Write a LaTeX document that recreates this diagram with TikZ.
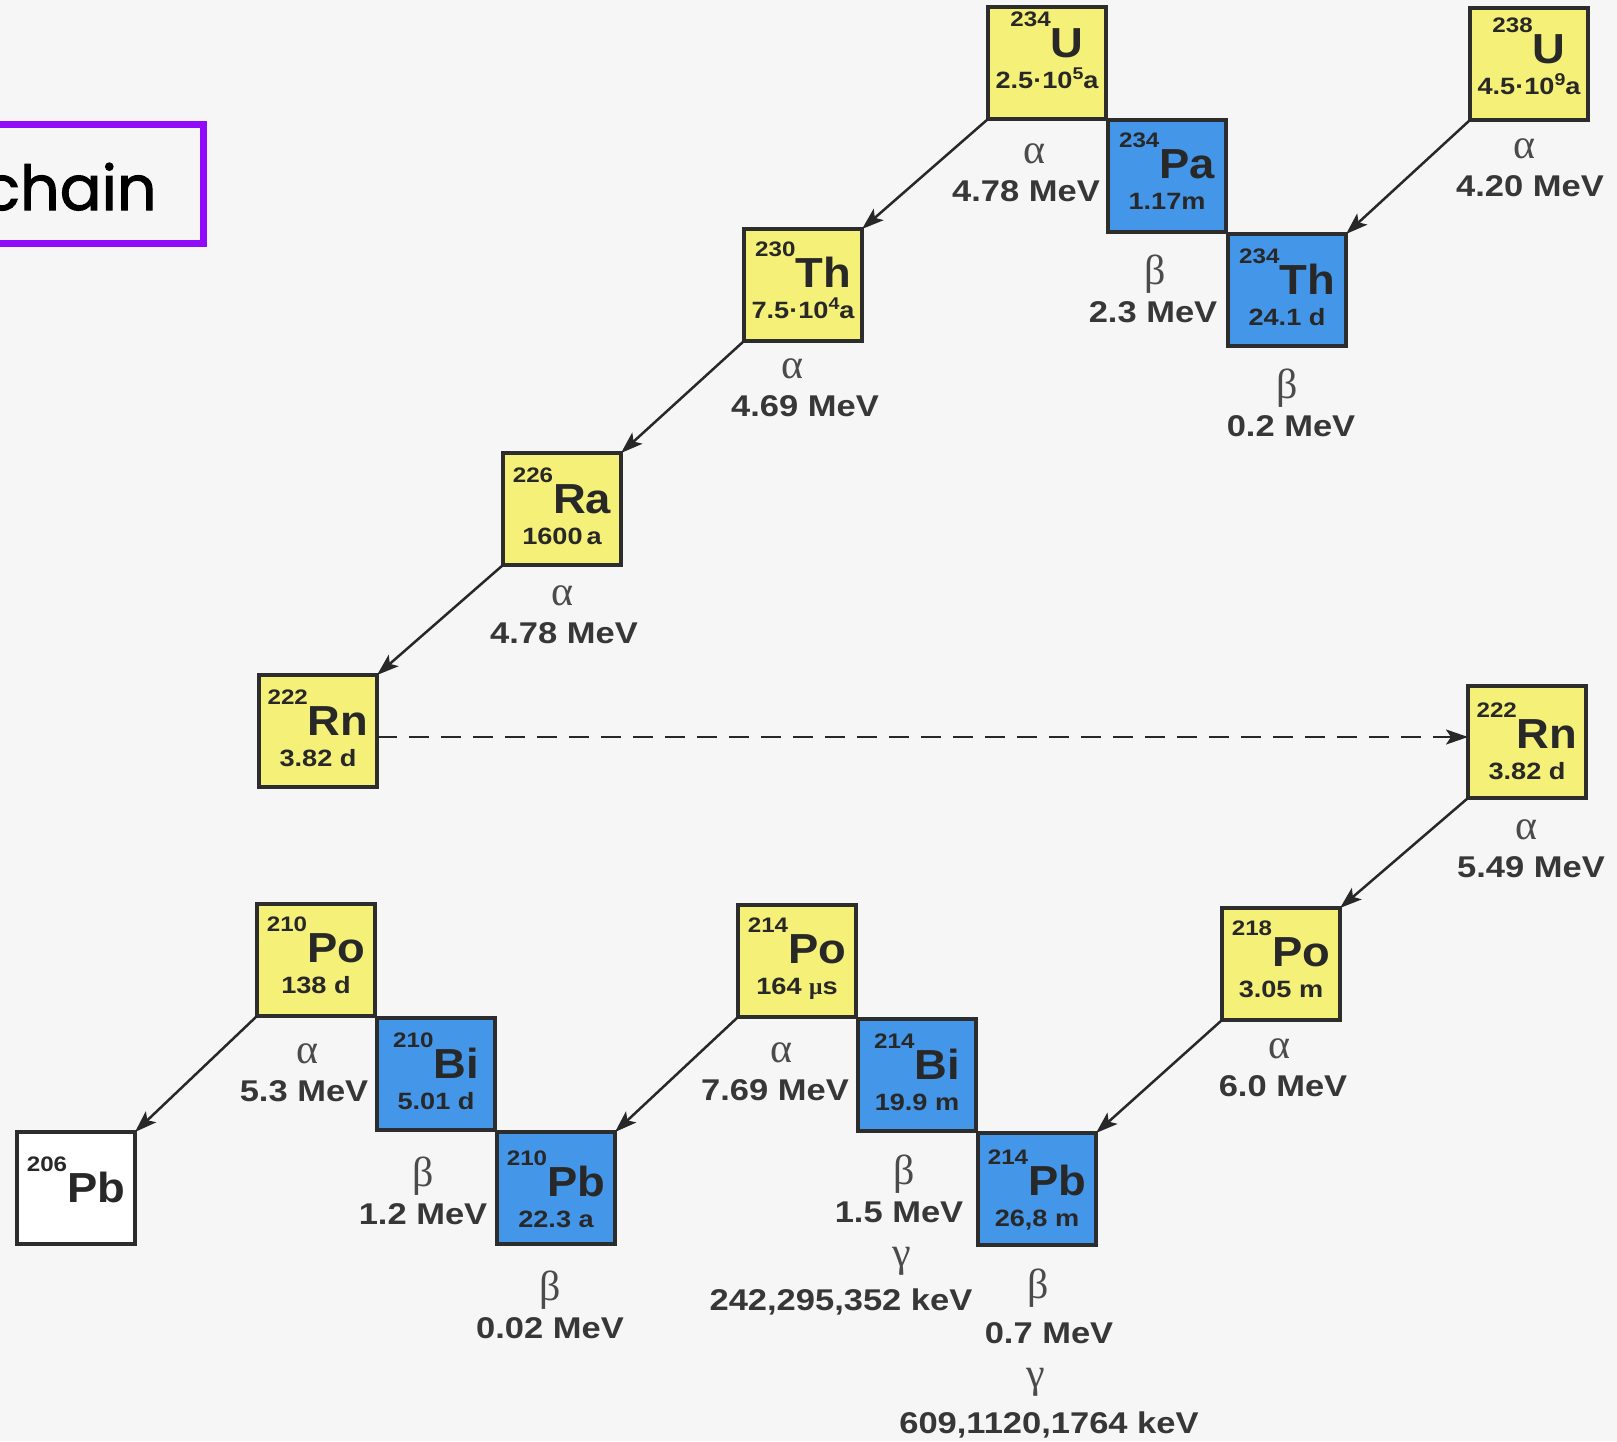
\documentclass[tikz,border=0pt]{standalone}
\usepackage{fontspec}
\setmainfont{Liberation Sans}
\newfontfamily\widesans[FakeStretch=1.15]{Liberation Sans}
\newfontfamily\symsans[FakeStretch=1.08]{Liberation Sans}
\newfontfamily\greekserif{Liberation Serif}
\newfontfamily\handfont[FakeBold=1.6]{Poppins}
\usetikzlibrary{arrows.meta}

\definecolor{paper}{RGB}{246,246,246}
\definecolor{ink}{RGB}{40,40,40}
\definecolor{labelink}{RGB}{55,55,55}
\definecolor{greekink}{RGB}{75,75,75}
\definecolor{nucyellow}{RGB}{245,240,120}
\definecolor{nucblue}{RGB}{68,150,232}
\definecolor{framepurple}{RGB}{145,10,250}
\definecolor{boxline}{RGB}{45,45,45}

% type sizes for the nuclide cards
\newcommand\massfnt{\widesans\bfseries\fontsize{10.5}{11}\selectfont}
\newcommand\symfnt{\symsans\bfseries\fontsize{21}{22}\selectfont}
\newcommand\lifefnt{\widesans\bfseries\fontsize{11.8}{12}\selectfont}
\newcommand\pow[1]{\raisebox{4.5pt}{\fontsize{8.5}{9}\selectfont #1}}

\tikzset{
  nucbox/.style={draw=boxline, line width=2pt, minimum width=59pt,
    minimum height=56pt, inner sep=0pt, outer sep=0pt},
  yellowbox/.style={nucbox, fill=nucyellow},
  bluebox/.style={nucbox, fill=nucblue},
  whitebox/.style={nucbox, fill=white},
  nuctext/.style={anchor=base, inner sep=0pt, text=ink},
  greek/.style={anchor=base, inner sep=0pt, text=greekink,
    font=\greekserif\fontsize{21}{22}\selectfont},
  energy/.style={anchor=base, inner sep=0pt, text=labelink,
    font=\widesans\bfseries\fontsize{15}{16}\selectfont},
  decay/.style={draw=ink, line width=1.25pt,
    -{Stealth[length=11pt,width=7.5pt,inset=2.5pt]}},
  transfer/.style={decay, dash pattern=on 10pt off 6pt},
  titleframe/.style={draw=framepurple, line width=3.5pt},
}

% name, centre, style, mass number, symbol, half-life, baseline of symbol below top
\newcommand\nuclide[7]{%
  \node[#3] (#1) at (#2) {};
  \node[nuctext] (#1-name) at ([yshift=-#7]#1.north)
    {\raisebox{15.5pt}{\massfnt #4}\symfnt #5};
  \node[nuctext] (#1-life) at ([yshift=-#7-15.5pt]#1.north) {\lifefnt #6};
}

\begin{document}
\begin{tikzpicture}[x=0.5pt, y=-0.5pt]
  \path[use as bounding box] (0,0) rectangle (1617,1441);
  \clip (0,0) rectangle (1617,1441);
  \fill[paper] (0,0) rectangle (1617,1441);

  % heading frame
  \draw[titleframe] (-20,124) rectangle (203,243);
  \node[anchor=base east, inner sep=0pt, text=black,
    font=\handfont\fontsize{31}{34}\selectfont] (heading) at (157,210) {chain};

  % nuclides
  \nuclide{u234}{1047,63}{yellowbox}{234}{U}{2.5·10\pow{5}a}{25pt}
  \nuclide{pa234}{1167,176}{bluebox}{234}{Pa}{1.17m}{29pt}
  \nuclide{th234}{1287,290}{bluebox}{234}{Th}{24.1 d}{30pt}
  \nuclide{u238}{1529,64}{yellowbox}{238}{U}{4.5·10\pow{9}a}{27.5pt}
  \nuclide{th230}{803,285}{yellowbox}{230}{Th}{7.5·10\pow{4}a}{29pt}
  \nuclide{ra226}{562,509}{yellowbox}{226}{Ra}{1600\,a}{30pt}
  \nuclide{rn222a}{318,731}{yellowbox}{222}{Rn}{3.82 d}{30pt}
  \nuclide{rn222b}{1527,742}{yellowbox}{222}{Rn}{3.82 d}{31pt}
  \nuclide{po218}{1281,964}{yellowbox}{218}{Po}{3.05 m}{29pt}
  \nuclide{po214}{797,961}{yellowbox}{214}{Po}{164 {\greekserif μ}s}{29pt}
  \nuclide{bi214}{917,1075}{bluebox}{214}{Bi}{19.9 m}{30pt}
  \nuclide{pb214}{1037,1189}{bluebox}{214}{Pb}{26,8 m}{31pt}
  \nuclide{po210}{316,960}{yellowbox}{210}{Po}{138 d}{29pt}
  \nuclide{bi210}{436,1074}{bluebox}{210}{Bi}{5.01 d}{30pt}
  \nuclide{pb210}{556,1188}{bluebox}{210}{Pb}{22.3 a}{32pt}
  \node[whitebox] (pb206) at (76,1188) {};
  \node[nuctext] (pb206-name) at ([yshift=-35pt]pb206.north)
    {\raisebox{15.5pt}{\massfnt 206}\symfnt Pb};

  % decay energies
  \node[greek]  (a1) at (1034,163) {α};
  \node[energy] (e1) at (1026,201) {4.78 MeV};
  \node[greek]  (a2) at (1155,284) {β};
  \node[energy] (e2) at (1153,322) {2.3 MeV};
  \node[greek]  (a3) at (1524,158) {α};
  \node[energy] (e3) at (1530,196) {4.20 MeV};
  \node[greek]  (a4) at (1287,398) {β};
  \node[energy] (e4) at (1291,436) {0.2 MeV};
  \node[greek]  (a5) at (792,378) {α};
  \node[energy] (e5) at (805,416) {4.69 MeV};
  \node[greek]  (a6) at (562,605) {α};
  \node[energy] (e6) at (564,643) {4.78 MeV};
  \node[greek]  (a7) at (1526,839) {α};
  \node[energy] (e7) at (1531,877) {5.49 MeV};
  \node[greek]  (a8) at (1279,1058) {α};
  \node[energy] (e8) at (1283,1096) {6.0 MeV};
  \node[greek]  (a9) at (781,1062) {α};
  \node[energy] (e9) at (775,1100) {7.69 MeV};
  \node[greek]  (a10) at (904,1184) {β};
  \node[energy] (e10) at (899,1222) {1.5 MeV};
  \node[greek]  (g10) at (902,1266) {γ};
  \node[energy] (k10) at (841,1310) {242,295,352 keV};
  \node[greek]  (a11) at (1038,1298) {β};
  \node[energy] (e11) at (1049,1343) {0.7 MeV};
  \node[greek]  (g11) at (1036,1387) {γ};
  \node[energy] (k11) at (1049,1433) {609,1120,1764 keV};
  \node[greek]  (a12) at (307,1063) {α};
  \node[energy] (e12) at (304,1101) {5.3 MeV};
  \node[greek]  (a13) at (423,1186) {β};
  \node[energy] (e13) at (423,1224) {1.2 MeV};
  \node[greek]  (a14) at (550,1300) {β};
  \node[energy] (e14) at (550,1338) {0.02 MeV};

  % alpha decays
  \draw[decay] (u234.south west) -- (th230.north east);
  \draw[decay] (u238.south west) -- (th234.north east);
  \draw[decay] (th230.south west) -- (ra226.north east);
  \draw[decay] (ra226.south west) -- (rn222a.north east);
  \draw[decay] (rn222b.south west) -- (po218.north east);
  \draw[decay] (po218.south west) -- (pb214.north east);
  \draw[decay] (po214.south west) -- (pb210.north east);
  \draw[decay] (po210.south west) -- (pb206.north east);

  % radon carried over
  \coordinate (rnstart) at ([yshift=-3pt]rn222a.east);
  \draw[transfer] (rnstart) -- (rnstart -| rn222b.west);
\end{tikzpicture}
\end{document}
